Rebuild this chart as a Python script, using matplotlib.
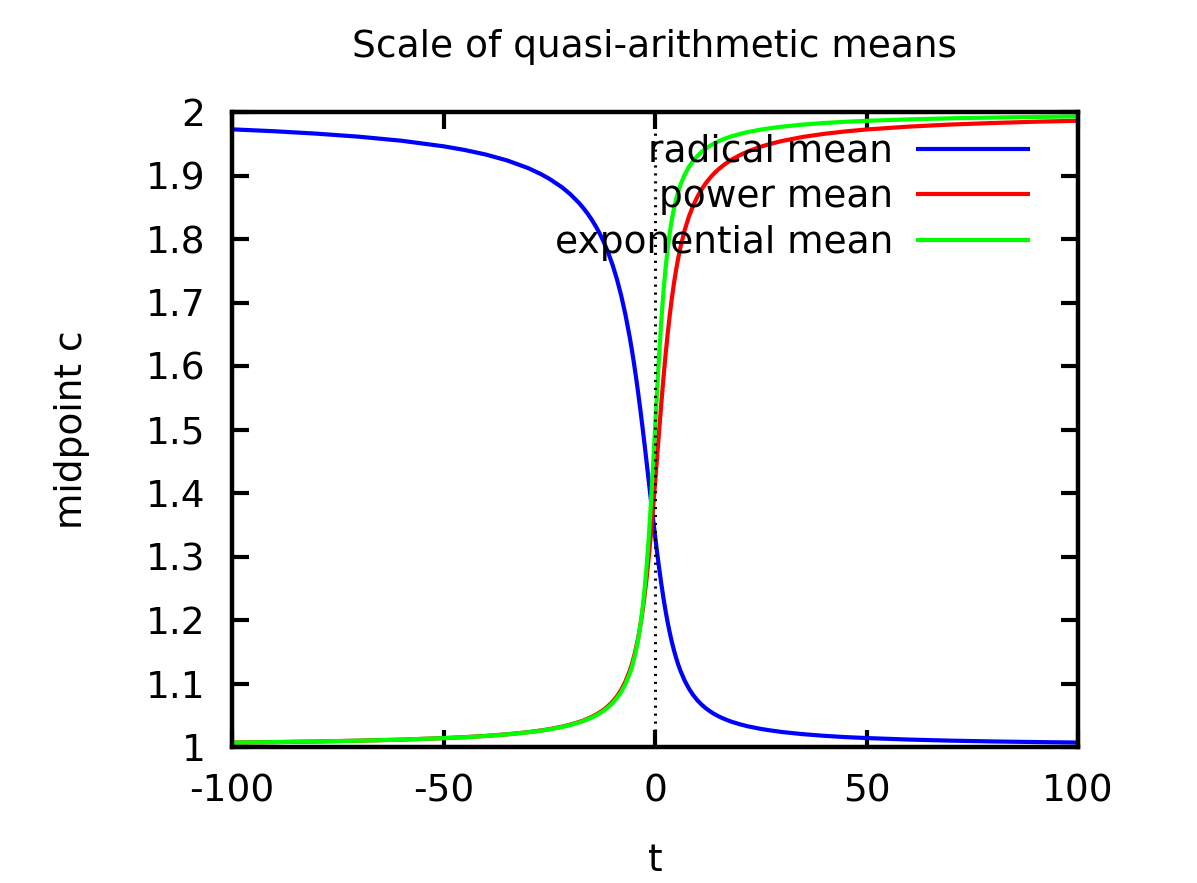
import numpy as np
import matplotlib
matplotlib.use("Agg")
import matplotlib.pyplot as plt

# parameter t and the midpoint c of (1, 2) for each mean
t_l = [-100, -90, -80, -70, -60, -50, -45, -40, -35, -30, -27, -25, -22, -20,
       -18, -17, -16, -15, -14, -13, -12, -11, -10, -9, -8, -7, -6, -5.5, -5,
       -4.5, -4, -3.5, -3, -2.5, -2, -1.5, -1, -0.5, 0,
       0.5, 1, 1.5, 2, 2.5, 3, 3.5, 4, 4.5, 5, 5.5, 6, 7, 8, 9, 10, 11, 12,
       13, 14, 15, 16, 17, 18, 20, 22, 25, 27, 30, 35, 40, 45, 50, 60, 70,
       80, 90, 100]

radical_l = [1.9727, 1.9697, 1.9659, 1.9611, 1.9548, 1.9460, 1.9402, 1.9330,
             1.9238, 1.9117, 1.9023, 1.8949, 1.8815, 1.8704, 1.8570, 1.8492,
             1.8406, 1.8309, 1.8200, 1.8077, 1.7935, 1.7773, 1.7586, 1.7367,
             1.7112, 1.6813, 1.6463, 1.6267, 1.6055, 1.5829, 1.5587, 1.5331,
             1.5062, 1.4782, 1.4494, 1.4201, 1.3907, 1.3616, 1.3333,
             1.3062, 1.2805, 1.2566, 1.2345, 1.2143, 1.1960, 1.1796, 1.1649,
             1.1518, 1.1401, 1.1296, 1.1204, 1.1047, 1.0922, 1.0820, 1.0737,
             1.0668, 1.0611, 1.0562, 1.0520, 1.0484, 1.0453, 1.0425, 1.0400,
             1.0359, 1.0325, 1.0285, 1.0264, 1.0236, 1.0202, 1.0176, 1.0156,
             1.0141, 1.0117, 1.0100, 1.0087, 1.0078, 1.0070]

power_l = [1.0070, 1.0077, 1.0087, 1.0100, 1.0116, 1.0140, 1.0155, 1.0175,
           1.0200, 1.0234, 1.0260, 1.0281, 1.0320, 1.0353, 1.0393, 1.0416,
           1.0443, 1.0473, 1.0508, 1.0548, 1.0594, 1.0650, 1.0717, 1.0798,
           1.0900, 1.1029, 1.1196, 1.1298, 1.1417, 1.1554, 1.1713, 1.1899,
           1.2114, 1.2363, 1.2649, 1.2973, 1.3333, 1.3726, 1.4142,
           1.4571, 1.5000, 1.5417, 1.5811, 1.6177, 1.6510, 1.6809, 1.7075,
           1.7310, 1.7519, 1.7702, 1.7864, 1.8135, 1.8349, 1.8522, 1.8662,
           1.8779, 1.8878, 1.8962, 1.9034, 1.9097, 1.9152, 1.9201, 1.9245,
           1.9319, 1.9380, 1.9453, 1.9493, 1.9543, 1.9608, 1.9656, 1.9694,
           1.9725, 1.9770, 1.9803, 1.9827, 1.9847, 1.9862]

exponential_l = [1.0069, 1.0077, 1.0087, 1.0099, 1.0116, 1.0139, 1.0154,
                 1.0173, 1.0198, 1.0231, 1.0257, 1.0277, 1.0315, 1.0347,
                 1.0385, 1.0408, 1.0433, 1.0462, 1.0495, 1.0533, 1.0578,
                 1.0630, 1.0693, 1.0770, 1.0866, 1.0989, 1.1151, 1.1253,
                 1.1373, 1.1516, 1.1687, 1.1895, 1.2149, 1.2457, 1.2831,
                 1.3278, 1.3799, 1.4381, 1.5000,
                 1.5619, 1.6201, 1.6722, 1.7169, 1.7543, 1.7851, 1.8105,
                 1.8313, 1.8484, 1.8627, 1.8747, 1.8849, 1.9011, 1.9134,
                 1.9230, 1.9307, 1.9370, 1.9422, 1.9467, 1.9505, 1.9538,
                 1.9567, 1.9592, 1.9615, 1.9653, 1.9685, 1.9723, 1.9743,
                 1.9769, 1.9802, 1.9827, 1.9846, 1.9861, 1.9884, 1.9901,
                 1.9913, 1.9923, 1.9931]

xticks_l = [-100, -50, 0, 50, 100]
yticks_l = [1.0, 1.1, 1.2, 1.3, 1.4, 1.5, 1.6, 1.7, 1.8, 1.9, 2.0]
ytick_labels_l = ["1", "1.1", "1.2", "1.3", "1.4", "1.5", "1.6", "1.7",
                  "1.8", "1.9", "2"]

series_l = [
    ("radical mean", radical_l, "#0000ff"),
    ("power mean", power_l, "#ff0000"),
    ("exponential mean", exponential_l, "#00ff00"),
]


def plot_means():
    fontsize = 27
    W, H = 1197, 883
    plt.rcParams["font.family"] = ["DejaVu Sans"]

    fig = plt.figure(figsize=(W / 100, H / 100), dpi=100)
    ax = fig.add_axes([232 / W, 1 - 747 / H, (1078 - 232) / W, (747 - 112) / H])

    for label_s, values_l, color_s in series_l:
        ax.plot(t_l, values_l, color=color_s, lw=3.0, label=label_s,
                solid_capstyle="butt", solid_joinstyle="round", zorder=2)

    # zero axis, dotted
    ax.axvline(0, color="black", lw=2.2, linestyle=(0, (0.7, 1.9)),
               dash_capstyle="butt", zorder=3)

    ax.set_xlim(-100, 100)
    ax.set_ylim(1, 2)
    ax.set_xticks(xticks_l, [str(x) for x in xticks_l])
    ax.set_yticks(yticks_l, ytick_labels_l)
    ax.tick_params(axis="both", which="major", direction="in", length=12.5,
                   width=3.0, labelsize=fontsize, top=True, right=True,
                   color="black")
    ax.tick_params(axis="x", pad=19)
    ax.tick_params(axis="y", pad=19)
    for spine in ax.spines.values():
        spine.set_linewidth(3.2)
        spine.set_zorder(4)

    fig.text(655 / W, 1 - 57 / H, "Scale of quasi-arithmetic means",
             fontsize=fontsize, ha="center", va="baseline")
    fig.text(655 / W, 1 - 871 / H, "t", fontsize=fontsize, ha="center",
             va="baseline")
    fig.text(72 / W, 1 - 430 / H, "midpoint c", fontsize=fontsize,
             ha="center", va="center", rotation=90)

    ax.legend(
        loc="upper right",
        bbox_to_anchor=(1030 / W, 1 - 134 / H),
        bbox_transform=fig.transFigure,
        frameon=False,
        fontsize=fontsize,
        markerfirst=False,
        handlelength=3.05,
        handletextpad=0.6,
        labelspacing=0.25,
        borderpad=0,
        borderaxespad=0,
    )

    fig.savefig("out.png", dpi=100)
    plt.close()


plot_means()
